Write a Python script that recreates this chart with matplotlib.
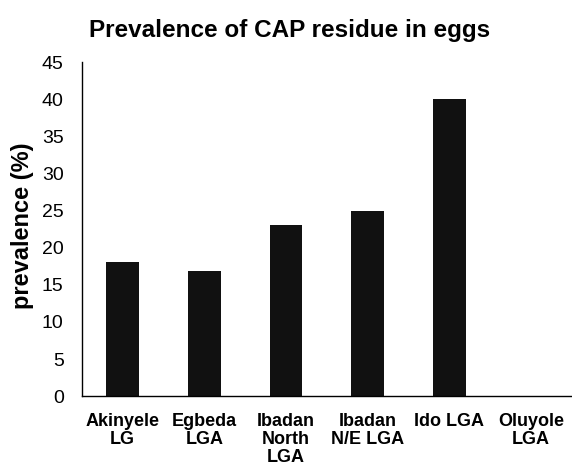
import matplotlib
matplotlib.use("Agg")
import matplotlib.pyplot as plt

plt.rcParams['font.family'] = ['Liberation Sans', 'DejaVu Sans']

# prevalence of CAP residue per LGA
labels = ["Akinyele\nLG", "Egbeda\nLGA", "Ibadan\nNorth\nLGA", "Ibadan\nN/E LGA", "Ido LGA", "Oluyole\nLGA"]
prevalence = [18.1, 16.8, 23.1, 25.0, 40.0, 0.0]
yticks = [0, 5, 10, 15, 20, 25, 30, 35, 40, 45]

fig = plt.figure(figsize=(5.72, 4.70), dpi=100)
ax = fig.add_axes([0.143, 0.157, 0.857, 0.711])

ax.bar(range(len(labels)), prevalence, width=0.4, color="#111111")
ax.set_xlim(-0.5, len(labels) - 0.5)
ax.set_ylim(0, 45)
ax.set_yticks(yticks)
ax.set_xticks(range(len(labels)))
ax.set_xticklabels(labels, fontweight="bold", fontsize=13, linespacing=1.1)
ax.tick_params(axis="x", length=0, pad=12)
ax.tick_params(axis="y", length=0, pad=13, labelsize=14)

for s in ["top", "right"]:
    ax.spines[s].set_visible(False)
ax.spines["left"].set_linewidth(1.0)
ax.spines["bottom"].set_linewidth(1.0)

ax.set_ylabel("prevalence (%)", fontweight="bold", fontsize=17, labelpad=0)
ax.yaxis.set_label_coords(-0.098, 0.51)
fig.text(0.507, 0.935, "Prevalence of CAP residue in eggs", ha="center", va="center",
         fontweight="bold", fontsize=17.5)

fig.savefig("out.png", dpi=100)
